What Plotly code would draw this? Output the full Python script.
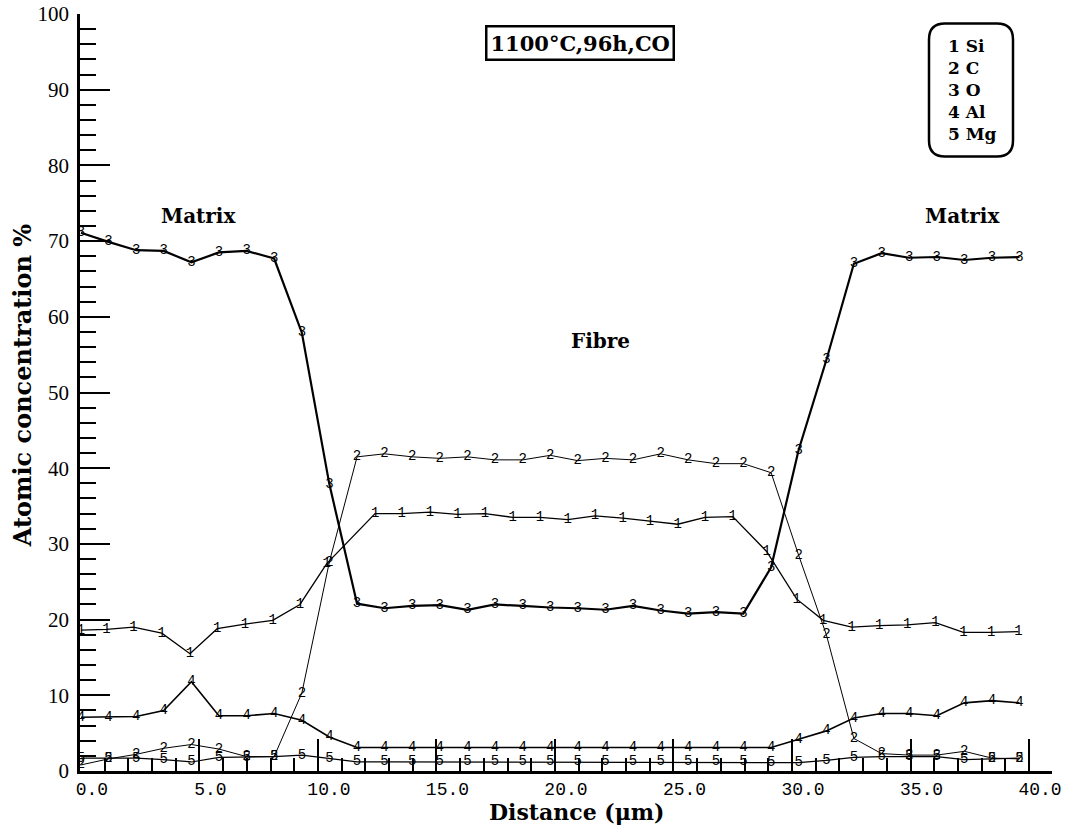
import plotly.graph_objects as go

# ---------------- data ----------------
x_grid = [0.00, 1.16, 2.33, 3.49, 4.66, 5.82, 6.99, 8.15, 9.32, 10.48, 11.65, 12.81,
          13.98, 15.14, 16.31, 17.47, 18.64, 19.80, 20.96, 22.13, 23.29, 24.46, 25.62,
          26.79, 27.95, 29.12, 30.28, 31.45, 32.61, 33.78, 34.94, 36.11, 37.27, 38.44, 39.60]

x_si = [0.00, 1.08, 2.21, 3.41, 4.60, 5.75, 6.92, 8.09, 9.24, 10.37, 12.41, 13.53,
        14.73, 15.89, 17.05, 18.22, 19.37, 20.54, 21.69, 22.86, 24.01, 25.18, 26.33,
        27.50, 28.93, 30.20, 31.32, 32.52, 33.68, 34.86, 36.05, 37.23, 38.40, 39.55]
si = [18.6, 18.7, 19.0, 18.2, 15.5, 18.8, 19.4, 19.9, 22.0, 27.4, 34.0, 34.0,
      34.2, 33.9, 34.0, 33.5, 33.5, 33.2, 33.7, 33.4, 33.0, 32.6, 33.5, 33.6,
      29.0, 22.7, 19.9, 19.0, 19.2, 19.3, 19.6, 18.3, 18.3, 18.4]

c = [0.8, 1.6, 2.2, 3.0, 3.5, 2.9, 1.9, 1.9, 10.3, 27.6, 41.5, 41.9,
     41.5, 41.3, 41.5, 41.1, 41.1, 41.7, 41.0, 41.3, 41.1, 41.9, 41.1, 40.6,
     40.6, 39.4, 28.5, 18.0, 4.3, 2.3, 2.1, 2.1, 2.6, 1.7, 1.6]

o = [71.1, 69.9, 68.8, 68.7, 67.2, 68.5, 68.7, 67.7, 57.9, 37.9, 22.1, 21.5,
     21.8, 21.9, 21.3, 22.0, 21.8, 21.6, 21.5, 21.3, 21.8, 21.2, 20.8, 21.0,
     20.8, 26.9, 42.4, 54.3, 67.0, 68.4, 67.8, 67.9, 67.5, 67.8, 67.9]

al = [7.1, 7.1, 7.2, 8.0, 11.8, 7.3, 7.3, 7.6, 6.7, 4.5, 3.1, 3.1,
      3.1, 3.1, 3.1, 3.1, 3.1, 3.1, 3.1, 3.1, 3.1, 3.1, 3.1, 3.1,
      3.1, 3.1, 4.2, 5.3, 7.0, 7.6, 7.6, 7.3, 9.0, 9.3, 9.0]

mg = [1.7, 1.7, 1.7, 1.5, 1.2, 1.8, 1.8, 1.9, 2.1, 1.7, 1.2, 1.2,
      1.2, 1.2, 1.2, 1.2, 1.2, 1.2, 1.2, 1.2, 1.2, 1.2, 1.2, 1.2,
      1.2, 1.1, 1.1, 1.4, 1.8, 1.9, 1.9, 1.9, 1.5, 1.6, 1.7]

series = [
    ("1", x_si, si, 1.3),
    ("2", x_grid, c, 1.0),
    ("3", x_grid, o, 2.2),
    ("4", x_grid, al, 1.6),
    ("5", x_grid, mg, 1.1),
]

legend_lines = ["1 Si", "2 C", "3 O", "4 Al", "5 Mg"]
x_ticks = [0, 5, 10, 15, 20, 25, 30, 35, 40]
y_ticks = [0, 10, 20, 30, 40, 50, 60, 70, 80, 90, 100]

# ---------------- layout geometry (pixels) ----------------
W, H = 1072, 829
L, R, T, B = 80, 20, 13.5, 58
PW, PH = W - L - R, H - T - B


def px(xp):
    return (xp - L) / PW


def py(yp):
    return (H - B - yp) / PH


fig = go.Figure()
for lab, xs, ys, lw in series:
    fig.add_trace(go.Scatter(
        x=xs, y=ys, mode="lines+text",
        text=[lab] * len(ys), textposition="middle center",
        textfont=dict(family="Liberation Mono", size=14, color="black"),
        line=dict(color="black", width=lw),
        showlegend=False, hoverinfo="skip",
    ))

serif_b = "DejaVu Serif"


def note(text, xp, yp, size, **kw):
    d = dict(text=text, x=px(xp), y=py(yp), xref="paper", yref="paper",
             showarrow=False, xanchor="center", yanchor="middle",
             font=dict(family=serif_b, size=size, color="black"))
    d.update(kw)
    return d


annotations = [
    note("<b>1100°C,96h,CO</b>", 580, 42.5, 21,
         bordercolor="black", borderwidth=2.5, borderpad=3),
    note("<b>" + "<br>".join(legend_lines) + "</b>", 946, 90, 17,
         xanchor="left", align="left"),
    note("<b>Matrix</b>", 198, 216, 20),
    note("<b>Matrix</b>", 962, 216, 20),
    note("<b>Fibre</b>", 600, 341, 20),
    note("<b>Distance (μm)</b>", 576, 812, 22),
    note("<b>Atomic concentration %</b>", 22, 386, 24, textangle=-90),
]

# rounded legend box
x0, x1 = px(929), px(1013)
y0, y1 = py(156), py(23)
rx, ry = 16 / PW, 16 / PH
path = (f"M {x0+rx},{y1} L {x1-rx},{y1} Q {x1},{y1} {x1},{y1-ry} "
        f"L {x1},{y0+ry} Q {x1},{y0} {x1-rx},{y0} L {x0+rx},{y0} "
        f"Q {x0},{y0} {x0},{y0+ry} L {x0},{y1-ry} Q {x0},{y1} {x0+rx},{y1} Z")

fig.update_layout(
    width=W, height=H,
    margin=dict(l=L, r=R, t=T, b=B, pad=0, autoexpand=False),
    paper_bgcolor="white", plot_bgcolor="white",
    annotations=annotations,
    shapes=[dict(type="path", path=path, xref="paper", yref="paper",
                 line=dict(color="black", width=2.5))],
)

fig.update_xaxes(
    range=[-0.04, 40.97], showgrid=False, zeroline=False,
    showline=True, linecolor="black", linewidth=2.5,
    tickmode="array", tickvals=x_ticks, ticktext=[f"{v:.1f}" for v in x_ticks],
    ticks="inside", ticklen=32, tickwidth=1.5, tickcolor="black",
    minor=dict(ticks="inside", ticklen=13, dtick=1, tick0=0, tickwidth=1.5, tickcolor="black"),
    tickfont=dict(family="Liberation Mono", size=18, color="black"),
    ticklabelshift=11, ticklabelstandoff=0, automargin=False,
)
fig.update_yaxes(
    range=[0, 100], showgrid=False, zeroline=False,
    showline=True, linecolor="black", linewidth=2.5,
    tickmode="array", tickvals=y_ticks, ticktext=[str(v) for v in y_ticks],
    ticks="inside", ticklen=30, tickwidth=1.8, tickcolor="black",
    minor=dict(ticks="inside", ticklen=16, dtick=2, tick0=0, tickwidth=1.8, tickcolor="black"),
    tickfont=dict(family="Liberation Serif", size=21, color="black"),
    ticklabelstandoff=4, automargin=False,
)

fig.write_html("out.html")
